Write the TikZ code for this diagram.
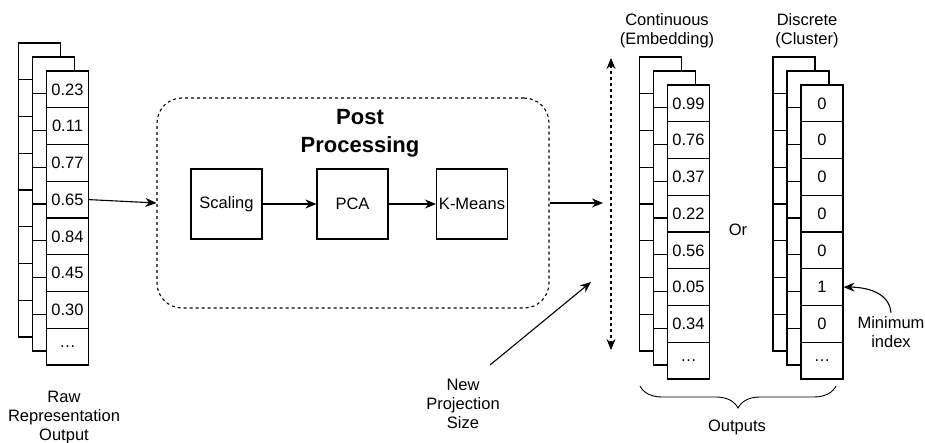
\documentclass[tikz,border=0pt]{standalone}
\usepackage{fontspec}
\setmainfont{Liberation Sans}
\usetikzlibrary{arrows.meta,decorations.pathreplacing}

\tikzset{
  cell/.style={draw, fill=white, minimum width=42pt, minimum height=36.75pt, inner sep=0pt},
  stage/.style={draw, rectangle, minimum width=71pt, minimum height=70pt, inner sep=0pt},
  note/.style={align=center}
}

% three stacked columns of cells, values on the front one
\newcommand{\cellstack}[4]{%
  \foreach \lay/\k in {back/0, mid/1, front/2}{
    \foreach \val [count=\i] in {#4}{
      \node[cell] (#1\lay\i) at (#2+14*\k, #3+14*\k+36.75*\i-18.375) {\ifnum\k=2 \val\fi};
    }
  }%
}

\begin{document}
\begin{tikzpicture}[x=1pt, y=-1pt, line width=1.1pt, >={Stealth[length=11pt,width=9pt]}, font=\fontsize{16.5}{19}\selectfont]
\useasboundingbox (0,0) rectangle (925,443);
\cellstack{raw}{39.5}{43}{0.23,0.11,0.77,0.65,0.84,0.45,0.30,\dots}
\cellstack{cont}{660.5}{57}{0.99,0.76,0.37,0.22,0.56,0.05,0.34,\dots}
\cellstack{disc}{794}{57}{0,0,0,0,0,1,0,\dots}
\node[draw, dashed, rounded corners=25pt, minimum width=392pt, minimum height=210pt] (post) at (353, 203) {};
\node[note, font=\bfseries\fontsize{22}{28}\selectfont] (posttitle) at (360, 133) {Post\\Processing};
\node[stage] (scaling) at (226.5, 204) {Scaling};
\node[stage] (pca) at (352.5, 204) {PCA};
\node[stage] (kmeans) at (472, 204) {K-Means};
\node[note] (contname) at (667, 30.5) {Continuous\\(Embedding)};
\node[note] (discname) at (807, 30.5) {Discrete\\(Cluster)};
\node (or) at (738, 230) {Or};
\node[note] (rawname) at (64, 418) {Raw\\Representation\\Output};
\node[note] (projname) at (463, 404) {New\\Projection\\Size};
\node[note] (minname) at (891, 332) {Minimum\\index};
\node (outname) at (737, 427) {Outputs};
\coordinate (outtip) at (603, 203);
\coordinate (sztop) at (611, 58);
\coordinate (szbot) at (611, 350);
\coordinate (projtail) at (490, 365);
\coordinate (projtip) at (591, 282);
\coordinate (bracel) at (640, 386);
\coordinate (bracer) at (836, 386);
\draw[->] (rawfront4.east) -- (post.west);
\draw[->] (scaling.east) -- (pca.west);
\draw[->] (pca.east) -- (kmeans.west);
\draw[->] (post.east) -- (outtip);
\draw[<->, dashed] (sztop) -- (szbot);
\draw[->] (projtail) -- (projtip);
\draw[->] (minname.north) to[out=95, in=0] (discfront6.east);
\draw[line width=0.9pt, decorate, decoration={brace, mirror, amplitude=22pt}] (bracel) -- (bracer);
\end{tikzpicture}
\end{document}
